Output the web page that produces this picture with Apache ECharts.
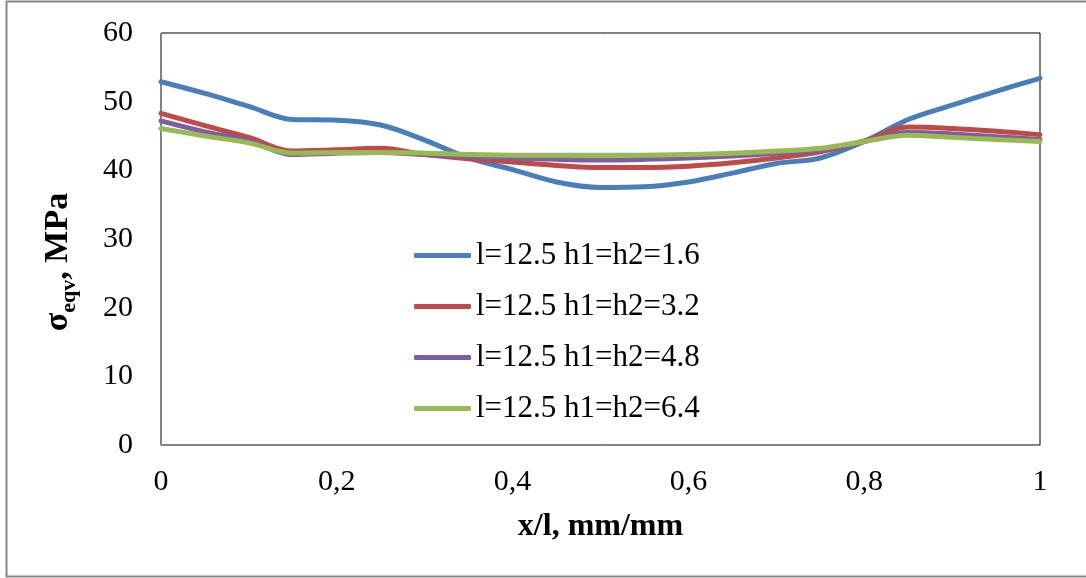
<!DOCTYPE html>
<html>
<head>
<meta charset="utf-8">
<script src="https://cdn.jsdelivr.net/npm/echarts@6/dist/echarts.min.js"></script>
<style>html,body{margin:0;padding:0;background:#fff;}#c{width:1086px;height:578px;}</style>
</head>
<body>
<div id="c"></div>
<script>
const xValues = [0, 0.05, 0.1, 0.15, 0.2, 0.25, 0.3, 0.35, 0.4, 0.45, 0.5, 0.55, 0.6, 0.65, 0.7, 0.75, 0.8, 0.85, 0.9, 0.95, 1];
const seriesNames = ['l=12.5 h1=h2=1.6', 'l=12.5 h1=h2=3.2', 'l=12.5 h1=h2=4.8', 'l=12.5 h1=h2=6.4'];
const s16 = [52.9, 51.2, 49.3, 47.4, 47.3, 46.6, 44.4, 41.8, 40.1, 38.3, 37.5, 37.6, 38.3, 39.6, 41.0, 41.8, 44.2, 47.4, 49.5, 51.5, 53.4];
const s32 = [48.3, 46.5, 44.8, 42.8, 43.0, 43.2, 42.3, 41.7, 41.2, 40.7, 40.4, 40.4, 40.6, 41.1, 41.8, 42.7, 44.3, 46.3, 46.1, 45.7, 45.2];
const s48 = [47.2, 45.6, 44.3, 42.3, 42.5, 42.6, 42.3, 42.0, 41.8, 41.6, 41.5, 41.6, 41.8, 42.1, 42.5, 43.0, 44.2, 45.5, 45.3, 44.9, 44.5];
const s64 = [46.1, 45.0, 44.0, 42.5, 42.6, 42.6, 42.5, 42.3, 42.2, 42.2, 42.2, 42.2, 42.3, 42.5, 42.8, 43.2, 44.2, 45.1, 44.8, 44.5, 44.2];
const colors = ['#4A7EBB', '#BE4B48', '#7D5FA0', '#98B954'];
const allSeries = [s16, s32, s48, s64];

const font = 'Liberation Serif, Times New Roman, serif';
const chart = echarts.init(document.getElementById('c'));
chart.setOption({
  animation: false,
  backgroundColor: '#fff',
  textStyle: { fontFamily: font },
  grid: { left: 161, right: 46, top: 33, bottom: 133, show: true, borderColor: '#000', borderWidth: 1, backgroundColor: 'transparent' },
  xAxis: {
    type: 'value', min: 0, max: 1, interval: 0.2,
    axisLine: { show: true, lineStyle: { color: '#868686', width: 1 } },
    axisTick: { show: false }, splitLine: { show: false },
    axisLabel: { color: '#000', fontSize: 30, fontFamily: font, margin: 22,
      formatter: v => String(Math.round(v * 10) / 10).replace('.', ',') },
    name: 'x/l, mm/mm', nameLocation: 'middle', nameGap: 66,
    nameTextStyle: { color: '#000', fontSize: 32, fontWeight: 'bold', fontFamily: font }
  },
  yAxis: {
    type: 'value', min: 0, max: 60, interval: 10,
    axisLine: { show: true, lineStyle: { color: '#868686', width: 1 } },
    axisTick: { show: false }, splitLine: { show: false },
    axisLabel: { color: '#000', fontSize: 30, fontFamily: font, margin: 28 }
  },
  legend: {
    orient: 'vertical', left: 414, top: 240, padding: 0, itemWidth: 57, itemHeight: 5, itemGap: 20,
    icon: 'roundRect',
    textStyle: { color: '#000', fontSize: 31, fontFamily: font, lineHeight: 30 },
    data: seriesNames
  },
  graphic: [
    { type: 'rect', shape: { x: 6.5, y: 1.5, width: 1100, height: 575 }, style: { fill: 'none', stroke: '#888', lineWidth: 2 }, silent: true, z: 100 },
    { type: 'text', x: 58, y: 262, rotation: Math.PI / 2,
      style: { text: '{a|σ}{b|eqv}{a|, MPa}', align: 'center', verticalAlign: 'middle',
        rich: { a: { fontSize: 34, fontWeight: 'bold', fontFamily: font, fill: '#000', verticalAlign: 'bottom' },
                b: { fontSize: 22, fontWeight: 'bold', fontFamily: font, fill: '#000', verticalAlign: 'bottom', padding: [0, 0, -5, 0] } } } }
  ],
  series: allSeries.map((arr, i) => ({
    name: seriesNames[i], type: 'line', smooth: 0.35, symbol: 'none',
    data: xValues.map((x, j) => [x, arr[j]]),
    lineStyle: { color: colors[i], width: 5, cap: 'round', join: 'round' },
    itemStyle: { color: colors[i] }
  }))
});
</script>
</body>
</html>
